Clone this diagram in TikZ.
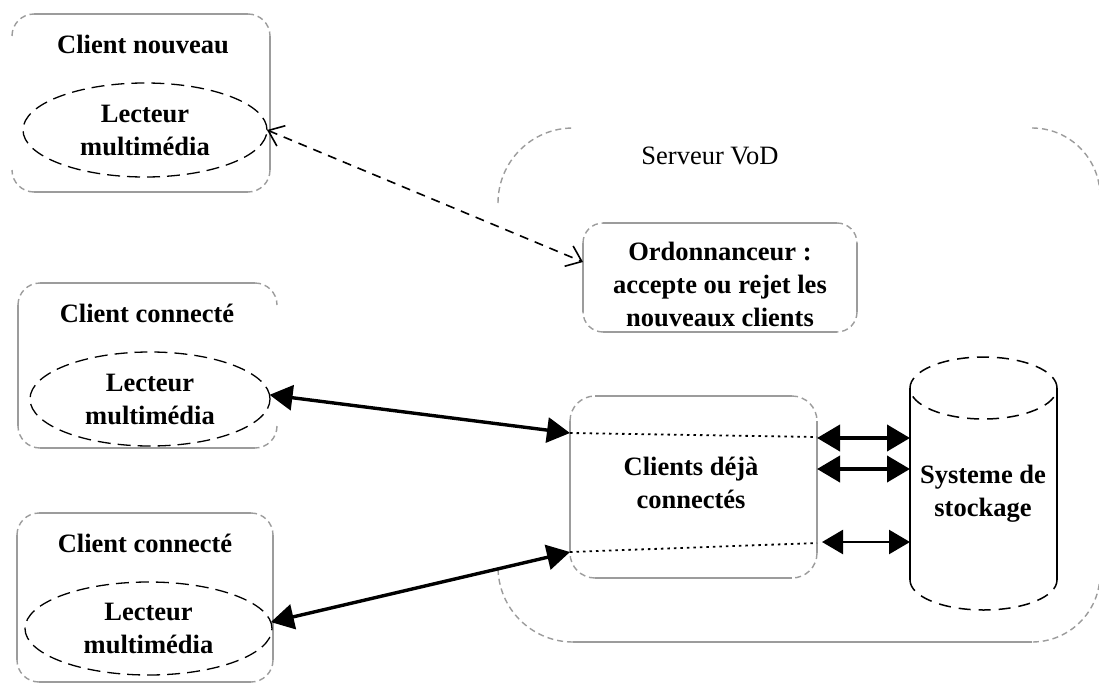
\documentclass[tikz,border=0pt]{standalone}
\usepackage{fontspec}
\setmainfont{Liberation Serif}
\usetikzlibrary{arrows.meta,fit,shapes.geometric}

\definecolor{framegray}{HTML}{9C9C9C}

% straight sides and dashed rounded corners of a framed area
\newcommand\bxN[2]{\draw[frameedge] ([xshift=#2]#1.north west) -- ([xshift=-#2]#1.north east);}
\newcommand\bxS[2]{\draw[frameedge] ([xshift=#2]#1.south west) -- ([xshift=-#2]#1.south east);}
\newcommand\bxE[2]{\draw[frameedge] ([yshift=-#2]#1.north east) -- ([yshift=#2]#1.south east);}
\newcommand\bxW[2]{\draw[frameedge] ([yshift=-#2]#1.north west) -- ([yshift=#2]#1.south west);}
\newcommand\cnNE[2]{\draw[framecorner] ([xshift=-#2]#1.north east) arc[start angle=90,end angle=0,radius=#2];}
\newcommand\cnSE[2]{\draw[framecorner] ([yshift=#2]#1.south east) arc[start angle=0,end angle=-90,radius=#2];}
\newcommand\cnSW[2]{\draw[framecorner] ([xshift=#2]#1.south west) arc[start angle=270,end angle=180,radius=#2];}
\newcommand\cnNW[2]{\draw[framecorner] ([yshift=-#2]#1.north west) arc[start angle=180,end angle=90,radius=#2];}
\newcommand\bxCorners[2]{\cnNE{#1}{#2}\cnSE{#1}{#2}\cnSW{#1}{#2}\cnNW{#1}{#2}}

\tikzset{
  frameedge/.style={draw=framegray,line width=1.4pt},
  framecorner/.style={draw=framegray,line width=1.4pt,dash pattern=on 6pt off 4pt},
  area/.style={inner sep=0pt,outer sep=0pt},
  txt/.style={font=\fontsize{26.5}{33}\selectfont\bfseries,align=center,inner sep=0pt},
  plaintxt/.style={font=\fontsize{26.5}{33}\selectfont,align=center,inner sep=0pt},
  reader/.style={ellipse,draw,line width=1.3pt,dash pattern=on 13pt off 7pt,
    inner sep=0pt,outer sep=0pt,align=center,font=\fontsize{26.5}{33}\selectfont\bfseries},
  linkdash/.style={line width=1.6pt,dash pattern=on 9pt off 7pt,
    {Straight Barb[length=14pt,width=22pt]}-{Straight Barb[length=14pt,width=22pt]}},
  linkthick/.style={line width=3.4pt,
    {Triangle[length=23pt,width=25pt]}-{Triangle[length=23pt,width=25pt]}},
  linkstore/.style={line width=4pt,
    {Triangle[length=23pt,width=26pt]}-{Triangle[length=23pt,width=26pt]}},
  linkthin/.style={line width=2.4pt,
    {Triangle[length=21pt,width=24pt]}-{Triangle[length=21pt,width=24pt]}},
  dotline/.style={line width=1.8pt,dash pattern=on 2.5pt off 4pt},
  cylside/.style={line width=1.8pt},
  cylcap/.style={line width=1.5pt,dash pattern=on 12pt off 8pt},
}

\begin{document}
\begin{tikzpicture}[x=1pt,y=1pt]
\useasboundingbox (0,0) rectangle (1099,-685);
\fill[white] (0,0) rectangle (1099,-685);

% ---------- server area ----------
\node[area,fit={(498,-128) (1100,-642)}] (server) {};
\cnNW{server}{75pt}\cnSW{server}{75pt}\cnNE{server}{68pt}\cnSE{server}{68pt}
\draw[frameedge] ([xshift=75pt]server.south west) -- ([xshift=-68pt]server.south east);
\node[plaintxt] (servertitle) at (710,-156) {Serveur VoD};

% ---------- client frames ----------
\node[area,fit={(12,-14) (270,-192)}] (c1) {};
\bxN{c1}{22pt}\bxE{c1}{22pt}\bxS{c1}{22pt}\bxCorners{c1}{22pt}
\node[txt] (c1title) at (143,-44) {Client nouveau};
\node[reader,minimum width=244pt,minimum height=94pt] (r1) at (145,-130) {Lecteur\\multimédia};

\node[area,fit={(18,-283) (277,-448)}] (c2) {};
\bxN{c2}{22pt}\bxW{c2}{22pt}\bxS{c2}{22pt}\bxCorners{c2}{22pt}
\node[txt] (c2title) at (147,-313) {Client connecté};
\node[reader,minimum width=240pt,minimum height=94pt] (r2) at (150,-399) {Lecteur\\multimédia};

\node[area,fit={(17,-513) (273,-682)}] (c3) {};
\bxN{c3}{22pt}\bxW{c3}{22pt}\bxE{c3}{22pt}\bxS{c3}{22pt}\bxCorners{c3}{22pt}
\node[txt] (c3title) at (145,-543) {Client connecté};
\node[reader,minimum width=247pt,minimum height=93pt] (r3) at (148.5,-628.5) {Lecteur\\multimédia};

% ---------- scheduler ----------
\node[area,fit={(583,-223) (857,-332)}] (ord) {};
\bxN{ord}{20pt}\bxE{ord}{20pt}\bxS{ord}{20pt}\bxW{ord}{20pt}\bxCorners{ord}{20pt}
\node[txt] (ordtxt) at (720,-284) {Ordonnanceur :\\accepte ou rejet les\\nouveaux clients};

% ---------- connected clients ----------
\node[area,fit={(570,-396) (817,-578)}] (cl) {};
\bxN{cl}{25pt}\bxE{cl}{25pt}\bxS{cl}{25pt}\bxW{cl}{25pt}\bxCorners{cl}{25pt}
\node[txt] (cltxt) at (691,-483) {Clients déjà\\connectés};

% ---------- storage cylinder ----------
\node[area,fit={(910,-357) (1057,-610)}] (cyl) {};
\draw[cylcap] (983.5,-388) ellipse[x radius=73.5pt,y radius=31pt];
\draw[cylside] (910,-388) -- (910,-580) (1057,-388) -- (1057,-580);
\draw[cylcap] (910,-580) arc[start angle=180,end angle=360,x radius=73.5pt,y radius=30pt];
\node[txt] (cyltxt) at (983,-494) {Systeme de\\stockage};

% ---------- streams inside the server ----------
\coordinate (clTL) at ([yshift=-37pt]cl.north west);
\coordinate (clTR) at ([yshift=-41pt]cl.north east);
\coordinate (clBL) at ([yshift=26pt]cl.south west);
\coordinate (clBR) at ([yshift=35pt]cl.south east);
\draw[dotline] (clTL) -- (clTR);
\draw[dotline] (clBL) -- (clBR);

% ---------- connectors ----------
\draw[linkdash] (r1.east) -- ([yshift=15.5pt]ord.west);
\draw[linkthick] (r2.2) -- (clTL);
\draw[linkthick] (r3.3) -- (clBL);
\draw[linkstore] ([yshift=-42pt]cl.north east) -- ([yshift=-81pt]cyl.north west);
\draw[linkstore] ([yshift=-73pt]cl.north east) -- ([yshift=-112pt]cyl.north west);
\draw[linkthin] ([xshift=5pt,yshift=-146pt]cl.north east) -- ([yshift=-185pt]cyl.north west);
\end{tikzpicture}
\end{document}
